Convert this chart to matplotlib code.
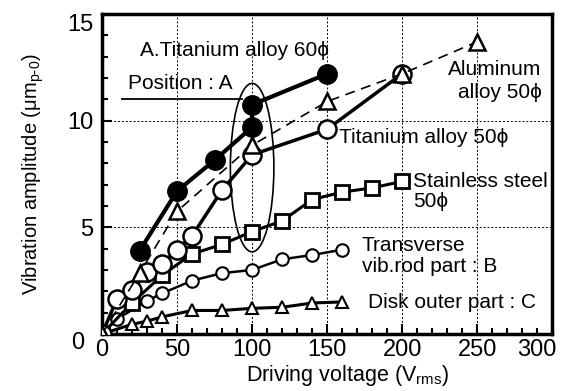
import matplotlib.pyplot as plt
from matplotlib.patches import Ellipse
from matplotlib.ticker import MultipleLocator
from matplotlib.transforms import ScaledTranslation

plt.rcParams['font.family'] = ['Liberation Sans', 'DejaVu Sans']

# Titanium alloy 60phi (position A)
ti60_v = [25, 50, 75, 100, 100, 150]
ti60_a = [3.9, 6.7, 8.15, 9.7, 10.75, 12.2]

# Aluminum alloy 50phi
al50_v = [0, 25, 50, 100, 150, 200, 250]
al50_a = [0, 2.85, 5.75, 8.85, 10.9, 12.2, 13.7]

# Titanium alloy 50phi
ti50_v = [0, 10, 20, 30, 40, 50, 60, 80, 100, 150, 200]
ti50_a = [0, 1.65, 2.05, 2.9, 3.3, 3.95, 4.6, 6.75, 8.4, 9.6, 12.2]

# Stainless steel 50phi
ss50_v = [0, 20, 40, 60, 80, 100, 120, 140, 160, 180, 200]
ss50_a = [0, 1.45, 2.75, 3.75, 4.2, 4.8, 5.3, 6.3, 6.65, 6.85, 7.15]

# Transverse vibration rod part B
rod_v = [0, 10, 30, 40, 60, 80, 100, 120, 140, 160]
rod_a = [0, 0.7, 1.55, 1.9, 2.5, 2.85, 3.0, 3.5, 3.7, 3.95]

# Disk outer part C
disk_v = [0, 20, 30, 40, 60, 80, 100, 120, 140, 160]
disk_a = [0, 0.45, 0.6, 0.8, 1.1, 1.1, 1.2, 1.25, 1.45, 1.5]

x_ticks = [0, 50, 100, 150, 200, 250, 300]
y_ticks = [0, 5, 10, 15]

fig = plt.figure(figsize=(5.67, 3.91), dpi=100)
ax = fig.add_axes([0.180, 0.146, 0.794, 0.818])

ax.plot(disk_v, disk_a, '-', color='black', lw=2.2, marker='^', ms=9,
        mfc='white', mec='black', mew=1.5, zorder=3)
ax.plot(rod_v, rod_a, '-', color='black', lw=1.8, marker='o', ms=9,
        mfc='white', mec='black', mew=1.5, zorder=3)
ax.plot(ss50_v, ss50_a, '-', color='black', lw=2.2, marker='s', ms=10.5,
        mfc='white', mec='black', mew=2, zorder=3)
ax.plot(ti50_v, ti50_a, '-', color='black', lw=2.5, marker='o', ms=13,
        mfc='white', mec='black', mew=1.8, zorder=3)
ax.plot(al50_v, al50_a, '--', color='black', lw=1.2, dashes=(6, 4), marker='^', ms=12,
        mfc='white', mec='black', mew=1.8, zorder=4)
ax.plot(ti60_v, ti60_a, '-', color='black', lw=3, marker='o', ms=14,
        mfc='black', mec='black', zorder=5)

ax.add_patch(Ellipse((100, 7.8), 29, 7.9, fill=False, ec='black', lw=1.2, zorder=6))

ax.set_xlim(0, 300)
ax.set_ylim(0, 15)
ax.set_xticks(x_ticks)
ax.set_yticks(y_ticks)
ax.xaxis.set_minor_locator(MultipleLocator(10))
ax.yaxis.set_minor_locator(MultipleLocator(1))
ax.tick_params(which='both', direction='in', top=False, right=False, labelsize=17, width=1.5)
ax.tick_params(which='major', length=7)
ax.tick_params(which='minor', length=4)
ax.tick_params(axis='y', pad=6.5)
ax.grid(True, which='major', ls=(0, (2, 2)), color='black', lw=0.7)
for s in ax.spines.values():
    s.set_linewidth(2.5)

# nudge the end tick labels, like the original
xl = ax.get_xticklabels()
xl[-1].set_transform(xl[-1].get_transform() + ScaledTranslation(-15 / 100, 0, fig.dpi_scale_trans))
yl = ax.get_yticklabels()
yl[-1].set_transform(yl[-1].get_transform() + ScaledTranslation(0, -8 / 100, fig.dpi_scale_trans))
yl[0].set_transform(yl[0].get_transform() + ScaledTranslation(-9 / 100, -7 / 100, fig.dpi_scale_trans))

ax.set_xlabel('Driving voltage (V$_{\\mathregular{rms}}$)', fontsize=15.5)
ax.xaxis.set_label_coords(0.545, -0.092, transform=ax.transAxes)
ax.xaxis.label.set_va('top')
ax.set_ylabel('Vibration amplitude ($\\mathregular{\u03bcm_{p\\text{-}0}}$)', fontsize=14.5,
              labelpad=15)

tfs = 15
phi = '\u03d5'
ax.text(88, 13.3, 'A.Titanium alloy 60' + phi, fontsize=tfs, ha='center', va='center')
ax.text(17, 11.75, 'Position : A', fontsize=tfs, ha='left', va='center')
ax.plot([13.5, 93], [11.0, 11.0], color='black', lw=1.3)
ax.text(293, 11.86, 'Aluminum\nalloy 50' + phi, fontsize=tfs, ha='right', va='center',
        linespacing=1.3)
ax.text(158, 9.2, 'Titanium alloy 50' + phi, fontsize=tfs, ha='left', va='center')
ax.text(207, 6.67, 'Stainless steel\n50' + phi, fontsize=tfs, ha='left', va='center',
        linespacing=1.05)
ax.text(173, 3.65, 'Transverse\nvib.rod part : B', fontsize=tfs, ha='left', va='center',
        linespacing=1.1)
ax.text(177, 1.47, 'Disk outer part : C', fontsize=tfs, ha='left', va='center')

fig.savefig('out.png', dpi=100)
